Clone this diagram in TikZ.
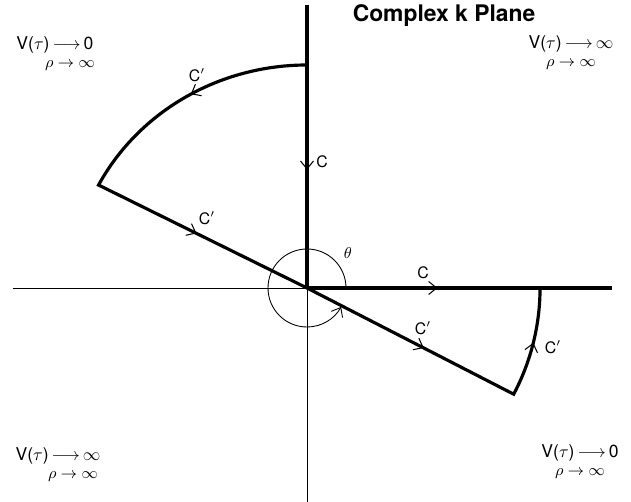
\documentclass[tikz,border=0pt]{standalone}
\usepackage{amsmath,amssymb}
\usepackage{fontspec}
\setsansfont{TeX Gyre Heros}
\usepackage{tikz}
\usetikzlibrary{arrows.meta,decorations.markings,positioning}

\begin{document}
\begin{tikzpicture}[
x=0.02cm, y=0.02cm,
node distance=0.14cm,
axis/.style={line width=0.5pt},
path/.style={line width=1.8pt},
lbl/.style={font=\sffamily\small, inner sep=1pt},
corner/.style={font=\sffamily, inner sep=0pt},
sub/.style={font=\sffamily\small, inner sep=0pt},
midarr/.style={postaction={decorate, decoration={markings,
    mark=at position #1 with {\arrow[line width=0.6pt]{Straight Barb[length=1.6mm,width=2.6mm]}}}}}
]
\useasboundingbox (-307,-214) rectangle (324,288);

\coordinate (O) at (0,0);
\coordinate (ytop) at (0,283);
\coordinate (ybot) at (0,-214);
\coordinate (xleft) at (-294,0);
\coordinate (xright) at (305,0);
\coordinate (A) at (0,223);
\coordinate (B) at (-208.4,103);
\coordinate (E) at (233,0);
\coordinate (D) at (206.7,-106.2);

\draw[axis] (xleft) -- (O);
\draw[axis] (O) -- (ybot);
\draw[path] (ytop) -- (A);
\draw[path, midarr=0.47] (A) -- (O);
\draw[path, midarr=0.56] (O) -- (E);
\draw[path] (E) -- (xright);

\draw[path, line join=miter] (A) arc[start angle=90, end angle=152.5, x radius=235, y radius=223] -- (O) -- (D)
  arc[start angle=-27.5, end angle=0, x radius=233, y radius=230];
\path[midarr=0.48] (A) arc[start angle=90, end angle=152.5, x radius=235, y radius=223];
\path[midarr=0.47] (B) -- (O);
\path[midarr=0.565] (O) -- (D);
\path[midarr=0.5] (D) arc[start angle=-27.5, end angle=0, x radius=233, y radius=230];

\draw[axis, -{Straight Barb[length=1.6mm,width=2.6mm]}] (39,0) arc[start angle=0, end angle=331, radius=39];

\node[font=\sffamily\bfseries\fontsize{13}{15}\selectfont] (title) at (137,272) {Complex k Plane};
\node[lbl] (cv) at (15,126) {C};
\node[lbl] (ch) at (116,15) {C};
\node[lbl] (ca1) at (-110,213) {C$'$};
\node[lbl] (cr1) at (-100,70) {C$'$};
\node[lbl] (cr2) at (116,-40) {C$'$};
\node[lbl] (ca2) at (246,-59) {C$'$};
\node[lbl] (theta) at (41,35) {$\theta$};

\node[corner] (tl) at (-252,243) {V($\tau$)\,$\longrightarrow$\,0};
\node[sub, below=of tl, xshift=0.3cm] (tls) {$\rho\to\infty$};
\node[corner] (tr) at (264,244) {V($\tau$)\,$\longrightarrow$\,$\infty$};
\node[sub, below=of tr] (trs) {$\rho\to\infty$};
\node[corner] (bl) at (-249,-168) {V($\tau$)\,$\longrightarrow$\,$\infty$};
\node[sub, below=of bl, xshift=0.3cm] (bls) {$\rho\to\infty$};
\node[corner] (br) at (273,-165) {V($\tau$)\,$\longrightarrow$\,0};
\node[sub, below=of br] (brs) {$\rho\to\infty$};
\end{tikzpicture}
\end{document}
